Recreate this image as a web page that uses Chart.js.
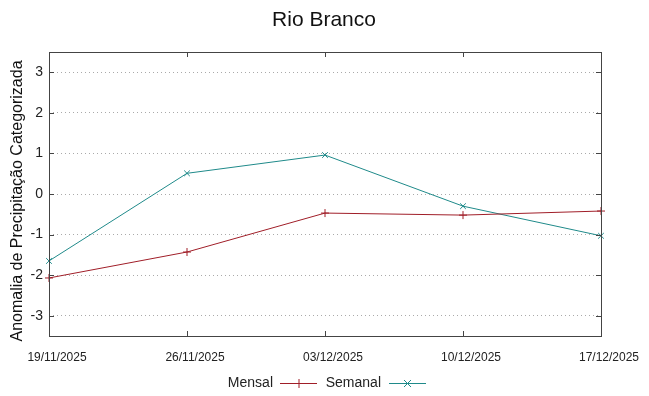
<!DOCTYPE html>
<html lang="pt">
<head>
<meta charset="UTF-8">
<title>Rio Branco</title>
<script src="https://cdn.jsdelivr.net/npm/chart.js"></script>
<style>
  body { margin: 0; background: #fff; }
  canvas { display: block; }
</style>
</head>
<body>
<canvas id="chart" width="649" height="396"></canvas>
<script>
// datas (eixo x)
const dates = ['19/11/2025', '26/11/2025', '03/12/2025', '10/12/2025', '17/12/2025'];
// series
const mensal = [-2.07, -1.43, -0.47, -0.52, -0.42];
const semanal = [-1.65, 0.51, 0.96, -0.30, -1.03];
const yTicks = [-3, -2, -1, 0, 1, 2, 3];

const FONT = '"Liberation Sans", Arial, sans-serif';
const RED = '#a01e28';
const TEAL = '#1f8a8a';

// borda, marcas, titulo e legenda estilo gnuplot
const gnuplotDecor = {
    id: 'gnuplotDecor',
    afterDraw(chart) {
        const ctx = chart.ctx;
        const a = chart.chartArea;
        const xs = chart.scales.x, ys = chart.scales.y;
        ctx.save();
        ctx.strokeStyle = '#444';
        ctx.lineWidth = 1;
        ctx.strokeRect(a.left + 0.5, a.top + 0.5, a.right - a.left, a.bottom - a.top);
        ctx.beginPath();
        yTicks.forEach(v => {
            const y = Math.round(ys.getPixelForValue(v)) + 0.5;
            ctx.moveTo(a.left, y); ctx.lineTo(a.left + 5, y);
            ctx.moveTo(a.right, y); ctx.lineTo(a.right - 5, y);
        });
        dates.forEach((d, i) => {
            const x = Math.round(xs.getPixelForValue(i)) + 0.5;
            ctx.moveTo(x, a.bottom); ctx.lineTo(x, a.bottom - 5);
            ctx.moveTo(x, a.top); ctx.lineTo(x, a.top + 5);
        });
        ctx.stroke();

        // titulo
        ctx.fillStyle = '#111';
        ctx.textAlign = 'center';
        ctx.textBaseline = 'middle';
        ctx.font = '21px ' + FONT;
        ctx.fillText('Rio Branco', 324, 20);

        // titulo do eixo y
        ctx.font = '16px ' + FONT;
        ctx.save();
        ctx.translate(18, 201);
        ctx.rotate(-Math.PI / 2);
        ctx.fillText('Anomalia de Precipitação Categorizada', 0, 0);
        ctx.restore();

        // legenda
        ctx.font = '14px ' + FONT;
        ctx.textAlign = 'right';
        const ly = 383;
        const items = [
            { label: 'Mensal', color: RED, tx: 273, x0: 280, x1: 317, mark: '+' },
            { label: 'Semanal', color: TEAL, tx: 381, x0: 389, x1: 426, mark: 'x' }
        ];
        items.forEach(it => {
            ctx.fillStyle = '#222';
            ctx.fillText(it.label, it.tx, ly);
            ctx.strokeStyle = it.color;
            ctx.beginPath();
            ctx.moveTo(it.x0, ly + 0.5); ctx.lineTo(it.x1, ly + 0.5);
            const cx = (it.x0 + it.x1) / 2;
            if (it.mark === '+') {
                ctx.moveTo(cx + 0.5, ly - 4); ctx.lineTo(cx + 0.5, ly + 5);
            } else {
                ctx.moveTo(cx - 3.5, ly - 3); ctx.lineTo(cx + 3.5, ly + 4);
                ctx.moveTo(cx + 3.5, ly - 3); ctx.lineTo(cx - 3.5, ly + 4);
            }
            ctx.stroke();
        });
        ctx.restore();
    }
};

const ctx = document.getElementById('chart').getContext('2d');
new Chart(ctx, {
    type: 'line',
    data: {
        labels: dates,
        datasets: [{
            label: 'Mensal',
            data: mensal,
            borderColor: RED,
            backgroundColor: RED,
            borderWidth: 1,
            pointStyle: 'cross',
            pointRadius: 4,
            pointBorderWidth: 1,
            tension: 0
        }, {
            label: 'Semanal',
            data: semanal,
            borderColor: TEAL,
            backgroundColor: TEAL,
            borderWidth: 1,
            pointStyle: 'crossRot',
            pointRadius: 4,
            pointBorderWidth: 1,
            tension: 0
        }]
    },
    options: {
        responsive: false,
        animation: false,
        layout: { padding: { top: 52, right: 48, left: 0, bottom: 0 } },
        plugins: {
            legend: { display: false },
            title: { display: false },
            tooltip: { enabled: false }
        },
        scales: {
            x: {
                offset: false,
                grid: { display: false, drawTicks: false },
                border: { display: false },
                ticks: {
                    autoSkip: false,
                    maxRotation: 0,
                    padding: 14,
                    labelOffset: 8,
                    color: '#222',
                    font: { family: FONT, size: 12 }
                },
                afterFit: s => { s.height = 60; }
            },
            y: {
                min: -3.5,
                max: 3.5,
                ticks: {
                    stepSize: 1,
                    padding: 6,
                    color: '#222',
                    font: { family: FONT, size: 14 }
                },
                afterBuildTicks: s => {
                    s.ticks = yTicks.map(v => ({ value: v }));
                },
                grid: { color: '#aaa', drawTicks: false },
                border: { display: false, dash: [1, 3] },
                afterFit: s => { s.width = 49; }
            }
        }
    },
    plugins: [gnuplotDecor]
});
</script>
</body>
</html>
